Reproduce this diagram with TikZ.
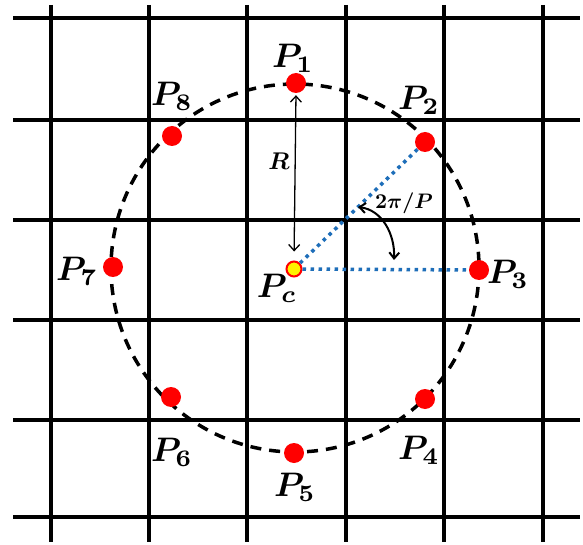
\documentclass[tikz,border=0pt]{standalone}
\usepackage{bm}
\usetikzlibrary{arrows.meta}
\definecolor{raycolor}{RGB}{30,110,185}
\begin{document}
\begin{tikzpicture}[
        x=1pt, y=-1pt,
        gridline/.style={draw, line width=4pt},
        ring/.style={draw, line width=3.5pt, dash pattern=on 11pt off 8pt},
        sample/.style={circle, fill=red, inner sep=0pt, minimum size=20pt},
        centre/.style={circle, fill=yellow, draw=red, line width=2pt, inner sep=0pt, minimum size=15pt},
        lbl/.style={inner sep=0pt, scale=3.4, transform shape},
        small/.style={inner sep=0pt, scale=2.1, transform shape},
        ray/.style={draw=raycolor, line width=3.5pt, dash pattern=on 3.5pt off 4.5pt},
        radius arrow/.style={draw, line width=1.3pt, {Straight Barb[length=6pt, width=11pt]}-{Straight Barb[length=6pt, width=11pt]}},
        angle arrow/.style={draw, line width=2pt, {Straight Barb[length=6pt, width=10pt]}-{Straight Barb[length=6pt, width=10pt]}},
    ]
    \useasboundingbox (0,0) rectangle (583,545);
    % grid
    \draw[gridline] (13,18) -- (580,18);
    \draw[gridline] (13,120) -- (580,120);
    \draw[gridline] (13,220) -- (580,220);
    \draw[gridline] (13,320) -- (580,320);
    \draw[gridline] (13,420) -- (580,420);
    \draw[gridline] (13,517) -- (580,517);
    \draw[gridline] (51,5) -- (51,542);
    \draw[gridline] (149,5) -- (149,542);
    \draw[gridline] (247,5) -- (247,542);
    \draw[gridline] (346,5) -- (346,542);
    \draw[gridline] (444,5) -- (444,542);
    \draw[gridline] (543,5) -- (543,542);
    % sampling circle
    \draw[ring] (295,268) circle[radius=184];
    % points
    \node[sample](p1) at (296,83){};
    \node[sample](p2) at (425,142){};
    \node[sample](p3) at (479,270){};
    \node[sample](p4) at (425,399){};
    \node[sample](p5) at (294,453){};
    \node[sample](p6) at (171,397){};
    \node[sample](p7) at (113,267){};
    \node[sample](p8) at (172,136){};
    \node[centre](pc) at (294,269){};
    % labels
    \node[lbl](l1) at (293,58){$\bm{P_1}$};
    \node[lbl](l2) at (419,100){$\bm{P_2}$};
    \node[lbl](l3) at (508,274){$\bm{P_3}$};
    \node[lbl](l4) at (419,450){$\bm{P_4}$};
    \node[lbl](l5) at (295,487){$\bm{P_5}$};
    \node[lbl](l6) at (172,452){$\bm{P_6}$};
    \node[lbl](l7) at (77,271){$\bm{P_7}$};
    \node[lbl](l8) at (172,96){$\bm{P_8}$};
    \node[lbl](lc) at (277,288){$\bm{P_c}$};
    % radius and angle
    \draw[ray] (pc) -- (p2);
    \draw[ray] (pc) -- (p3);
    \draw[radius arrow, shorten <=2pt, shorten >=9pt] (p1.south) -- (pc.north);
    \node[small, scale=1.15](rlbl) at (279,161){$\bm{R}$};
    \coordinate (a1) at (358,207);
    \coordinate (a2) at (394,260);
    \draw[angle arrow] (a1) .. controls (382,210) and (395,234) .. (a2);
    \node[small](albl) at (404,203){$\bm{2\pi/P}$};
\end{tikzpicture}
\end{document}
